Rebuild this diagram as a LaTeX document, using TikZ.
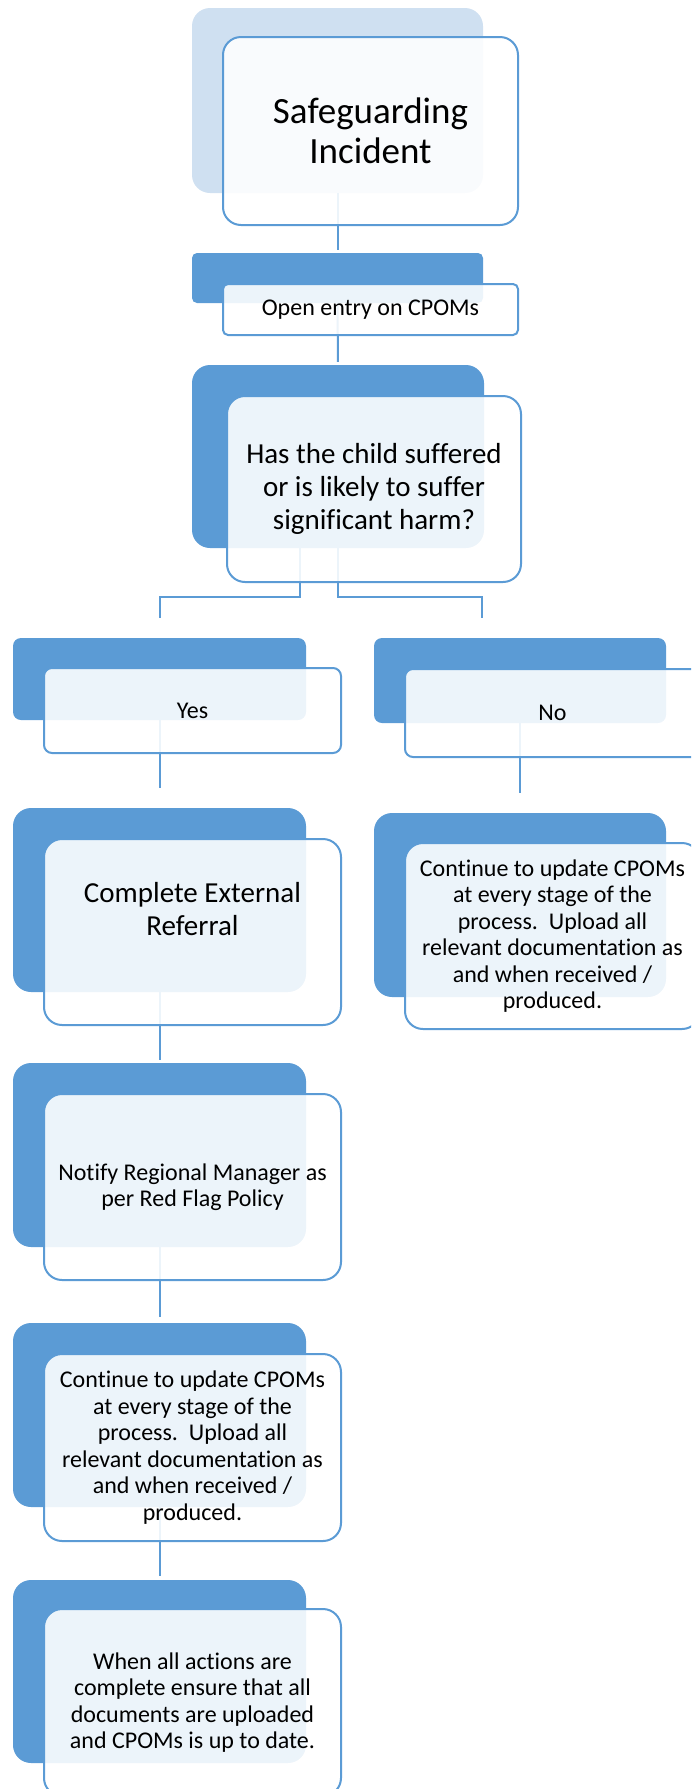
\documentclass[tikz,border=0pt]{standalone}
\usepackage{fontspec}
\setmainfont{Carlito}[Ligatures={NoCommon,NoContextual}]
\usetikzlibrary{positioning}
\definecolor{stepblue}{HTML}{5B9BD5}
\definecolor{paleblue}{HTML}{CFE0F1}
\tikzset{
  backbox/.style={fill=stepblue, inner sep=0pt, rounded corners=18pt},
  frontbox/.style={draw=stepblue, line width=2pt, fill=white, fill opacity=0.89, text opacity=1,
    rounded corners=18pt, align=center, inner sep=0pt, font=\fontsize{24}{26.5}\selectfont},
  bigtext/.style={font=\fontsize{29}{33}\selectfont},
  hugetext/.style={font=\fontsize{37}{40}\selectfont},
  link/.style={draw=stepblue, line width=2pt}
}
\begin{document}
\begin{tikzpicture}[x=1pt,y=-1pt]
      \useasboundingbox (0,0) rectangle (691,1789);
      \clip (0,0) rectangle (691,1789);
      \node[backbox, fill=paleblue, minimum width=291pt, minimum height=185pt] (b1) at (337.5,100.5) {};
      \node[backbox, rounded corners=5pt, minimum width=291pt, minimum height=50pt] (b2) at (337.5,278) {};
      \node[backbox, minimum width=292pt, minimum height=183pt] (b3) at (338,456.5) {};
      \node[backbox, rounded corners=8pt, minimum width=293pt, minimum height=82pt] (yb) at (159.5,679) {};
      \node[backbox, rounded corners=8pt, minimum width=292pt, minimum height=85pt] (nb) at (520,680.5) {};
      \node[backbox, minimum width=293pt, minimum height=184pt] (cb) at (159.5,900) {};
      \node[backbox, minimum width=292pt, minimum height=184pt] (ncb) at (520,905) {};
      \node[backbox, minimum width=293pt, minimum height=184pt] (rb) at (159.5,1155) {};
      \node[backbox, minimum width=293pt, minimum height=184pt] (ub) at (159.5,1415) {};
      \node[backbox, minimum width=293pt, minimum height=183pt] (eb) at (159.5,1671.5) {};
      \draw[link, shorten >=3pt] (b1.south) -- (b2.north);
      \draw[link, shorten >=3pt] (b2.south) -- (b3.north);
      \draw[link] ([xshift=-38pt]b3.south) -- ++(0,49) -| ([yshift=20pt]yb.north);
      \draw[link] (b3.south) -- ++(0,49) -| ([shift={(-38pt,20pt)}]nb.north);
      \draw[link, shorten >=20pt] (yb.south) -- (cb.north);
      \draw[link, shorten >=20pt] (nb.south) -- (ncb.north);
      \draw[link, shorten >=3pt] (cb.south) -- (rb.north);
      \draw[link, shorten >=6pt] (rb.south) -- (ub.north);
      \draw[link, shorten >=4pt] (ub.south) -- (eb.north);
      \node[frontbox, hugetext, minimum width=295pt, minimum height=188pt] (f1) at (370.5,131) {Safeguarding\\Incident};
      \node[frontbox, rounded corners=5pt, minimum width=295pt, minimum height=51pt] (f2) at (370.5,309.5) {Open entry on CPOMs};
      \node[frontbox, bigtext, minimum width=294pt, minimum height=186pt] (f3) at (374,489) {Has the child suffered\\or is likely to suffer\\significant harm?};
      \node[frontbox, rounded corners=8pt, minimum width=297pt, minimum height=85pt] (yf) at (192.5,710.5) {Yes};
      \node[frontbox, rounded corners=8pt, minimum width=295pt, minimum height=88pt] (nf) at (552.5,713) {No};
      \node[frontbox, bigtext, minimum width=297pt, minimum height=186pt] (cf) at (192.5,932) {Complete External\\Referral\\[13pt]\mbox{}};
      \node[frontbox, minimum width=295pt, minimum height=186pt] (ncf) at (552.5,936) {Continue to update CPOMs\\at every stage of the\\process.\ \ Upload all\\relevant documentation as\\and when received /\\produced.};
      \node[frontbox, minimum width=297pt, minimum height=186pt] (rf) at (192.5,1187) {Notify Regional Manager as\\per Red Flag Policy};
      \node[frontbox, minimum width=297pt, minimum height=187pt] (uf) at (192.5,1447.5) {Continue to update CPOMs\\at every stage of the\\process.\ \ Upload all\\relevant documentation as\\and when received /\\produced.};
      \node[frontbox, minimum width=297pt, minimum height=187pt] (ef) at (192.5,1702.5) {When all actions are\\complete ensure that all\\documents are uploaded\\and CPOMs is up to date.};
\end{tikzpicture}
\end{document}
